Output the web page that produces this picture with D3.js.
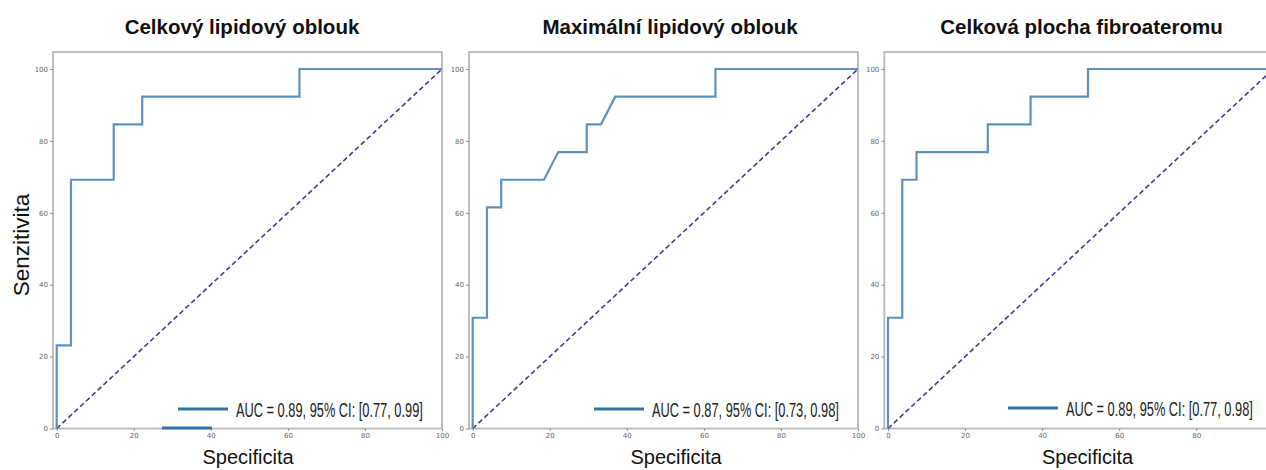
<!DOCTYPE html>
<html><head><meta charset="utf-8">
<script src="https://cdn.jsdelivr.net/npm/d3@7"></script>
<style>body{margin:0;background:#fff}svg{display:block}</style>
</head><body><svg id="c" width="1266" height="470"></svg>
<script>
const titles = ["Celkový lipidový oblouk", "Maximální lipidový oblouk", "Celková plocha fibroateromu"];
const legends = ["AUC = 0.89, 95% CI: [0.77, 0.99]", "AUC = 0.87, 95% CI: [0.73, 0.98]", "AUC = 0.89, 95% CI: [0.77, 0.98]"];
const xTicks = [0, 20, 40, 60, 80, 100];
const yTicks = [0, 20, 40, 60, 80, 100];
const fpr1 = [0, 0, 3.7, 3.7, 14.8, 14.8, 22.2, 22.2, 63, 63, 100];
const sens1 = [0, 23.1, 23.1, 69.2, 69.2, 84.6, 84.6, 92.3, 92.3, 100, 100];
const fpr2 = [0, 0, 3.7, 3.7, 7.4, 7.4, 18.5, 22.2, 29.6, 29.6, 33.3, 37.0, 63, 63, 100];
const sens2 = [0, 30.8, 30.8, 61.5, 61.5, 69.2, 69.2, 76.9, 76.9, 84.6, 84.6, 92.3, 92.3, 100, 100];
const fpr3 = [0, 0, 3.7, 3.7, 7.4, 7.4, 25.9, 25.9, 37.0, 37.0, 51.9, 51.9, 100];
const sens3 = [0, 30.8, 30.8, 69.2, 69.2, 76.9, 76.9, 84.6, 84.6, 92.3, 92.3, 100, 100];
const fprs = [fpr1, fpr2, fpr3];
const senss = [sens1, sens2, sens3];

const W = 1266;
const svg = d3.select("#c");
const frameLefts = [53, 469, 884.3];
const frameW = 389, frameTop = 52, frameBottom = 428.5;
const titleCenters = [242, 670, 1081.5];
const legendLineX = [178, 594, 1008];
const legendY = [409, 409, 408];

frameLefts.forEach((fl, i) => {
  const x = d3.scaleLinear().domain([0, 100]).range([fl + 3.7, fl + frameW]);
  const y = d3.scaleLinear().domain([0, 100]).range([frameBottom, 69]);
  const g = svg.append("g");

  g.append("rect").attr("x", fl).attr("y", frameTop).attr("width", frameW).attr("height", frameBottom - frameTop)
    .attr("fill", "none").attr("stroke", "#b8b8b8").attr("stroke-width", 1.8);

  const ticksX = xTicks.filter(t => x(t) + 8 < W);
  const ax = g.append("g").attr("transform", `translate(0,${frameBottom})`)
    .call(d3.axisBottom(x).tickValues(ticksX).tickSize(2.5).tickPadding(2));
  const ay = g.append("g").attr("transform", `translate(${fl},0)`)
    .call(d3.axisLeft(y).tickValues(yTicks).tickSize(3).tickPadding(2));
  [ax, ay].forEach(a => {
    a.select(".domain").remove();
    a.selectAll("line").attr("stroke", "#777").attr("stroke-width", 0.8);
    a.selectAll("text").attr("fill", "#666").style("font-size", "7px").style("font-family", "DejaVu Sans");
  });

  g.append("line").attr("x1", x(0)).attr("y1", y(0)).attr("x2", x(100)).attr("y2", y(100))
    .attr("stroke", "#3c3f8f").attr("stroke-width", 1.6).attr("stroke-dasharray", "5,3");

  const pts = fprs[i].map((v, k) => [v, senss[i][k]]);
  g.append("path").datum(pts)
    .attr("d", d3.line().x(d => x(d[0])).y(d => y(d[1])))
    .attr("fill", "none").attr("stroke", "#5d92be").attr("stroke-width", 2.2);

  g.append("line").attr("x1", legendLineX[i]).attr("x2", legendLineX[i] + 50)
    .attr("y1", legendY[i]).attr("y2", legendY[i])
    .attr("stroke", "#3474a5").attr("stroke-width", 3);
  const lt = g.append("text")
    .style("font-family", "Liberation Sans, Arial, sans-serif").style("font-size", "19.5px").attr("fill", "#222")
    .text(legends[i]);
  const natural = lt.node().getComputedTextLength();
  const sx = 187 / natural;
  lt.attr("transform", `translate(${legendLineX[i] + 58},${legendY[i] + 8}) scale(${sx},1)`);

  g.append("text").attr("x", titleCenters[i]).attr("y", 34).attr("text-anchor", "middle")
    .style("font-family", "Liberation Sans, Arial, sans-serif").style("font-weight", "bold").style("font-size", "20.5px")
    .attr("fill", "#111").text(titles[i]);

  g.append("text").attr("x", titleCenters[i] + 6).attr("y", 464).attr("text-anchor", "middle")
    .style("font-family", "Liberation Sans, Arial, sans-serif").style("font-size", "20px")
    .attr("fill", "#111").text("Specificita");
});

svg.append("line").attr("x1", 162).attr("x2", 212).attr("y1", 428).attr("y2", 428)
  .attr("stroke", "#3474a5").attr("stroke-width", 3);

svg.append("text").attr("transform", "translate(29,245) rotate(-90)").attr("text-anchor", "middle")
  .style("font-family", "Liberation Sans, Arial, sans-serif").style("font-size", "22.5px")
  .attr("fill", "#111").text("Senzitivita");
</script></body></html>
